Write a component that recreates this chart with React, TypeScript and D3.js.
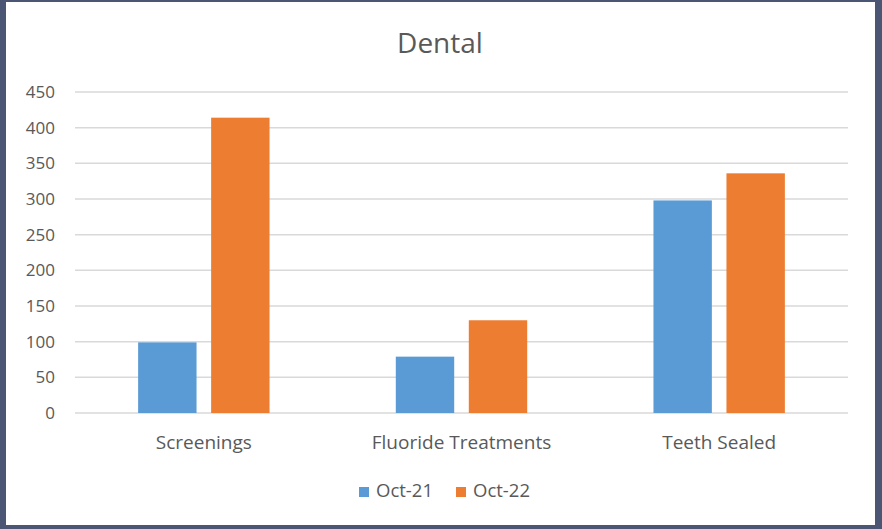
import React, { useEffect, useRef } from "react"
import * as d3 from "d3"

const categories = ["Screenings", "Fluoride Treatments", "Teeth Sealed"]
const seriesNames = ["Oct-21", "Oct-22"]
const oct21 = [99, 79, 298]
const oct22 = [414, 130, 336]
const yTicks = [0, 50, 100, 150, 200, 250, 300, 350, 400, 450]
const colors = ["#5b9bd5", "#ed7d31"]

const W = 882
const H = 529
const FONT = "'Open Sans', 'Noto Sans', sans-serif"

export default function App() {
    const ref = useRef<SVGSVGElement>(null)

    useEffect(() => {
        const svg = d3.select(ref.current)
        svg.selectAll("*").remove()

        // frame
        svg.append("rect").attr("width", W).attr("height", H).attr("fill", "#4b5675")
        svg.append("rect")
            .attr("x", 6).attr("y", 2).attr("width", 869).attr("height", 523)
            .attr("fill", "#ffffff")

        const left = 75
        const right = 848
        const top = 92
        const bottom = 413

        const y = d3.scaleLinear().domain([0, 450]).range([bottom, top])
        const x0 = d3.scaleBand().domain(categories).range([left, right])
            .paddingInner(0.49).paddingOuter(0.245)
        const x1 = d3.scaleBand().domain(seriesNames).range([0, x0.bandwidth()])
            .paddingInner(0.2)

        // gridlines
        svg.append("g")
            .selectAll("line")
            .data(yTicks)
            .enter()
            .append("line")
            .attr("x1", left).attr("x2", right)
            .attr("y1", d => y(d)).attr("y2", d => y(d))
            .attr("stroke", "#d9d9d9")
            .attr("stroke-width", 1.5)

        // y labels
        svg.append("g")
            .selectAll("text")
            .data(yTicks)
            .enter()
            .append("text")
            .attr("x", 55)
            .attr("y", d => y(d))
            .attr("dy", "0.36em")
            .attr("text-anchor", "end")
            .attr("font-family", FONT)
            .attr("font-size", 17)
            .attr("fill", "#595959")
            .text(d => d)

        const rows = categories.map((c, i) => ({ cat: c, vals: [oct21[i], oct22[i]] }))

        const groups = svg.append("g")
            .selectAll("g")
            .data(rows)
            .enter()
            .append("g")
            .attr("transform", d => "translate(" + x0(d.cat) + ",0)")

        groups.selectAll("rect")
            .data(d => d.vals.map((v, j) => ({ name: seriesNames[j], v, j })))
            .enter()
            .append("rect")
            .attr("x", d => x1(d.name) as number)
            .attr("y", d => y(d.v))
            .attr("width", x1.bandwidth())
            .attr("height", d => bottom - y(d.v))
            .attr("fill", d => colors[d.j])

        // category labels
        svg.append("g")
            .selectAll("text")
            .data(categories)
            .enter()
            .append("text")
            .attr("x", d => (x0(d) as number) + x0.bandwidth() / 2)
            .attr("y", 449)
            .attr("text-anchor", "middle")
            .attr("font-family", FONT)
            .attr("font-size", 19)
            .attr("fill", "#595959")
            .text(d => d)

        // title
        svg.append("text")
            .attr("x", 440).attr("y", 53)
            .attr("text-anchor", "middle")
            .attr("font-family", FONT)
            .attr("font-size", 28)
            .attr("fill", "#595959")
            .text("Dental")

        // legend
        const legendX = [359, 456]
        const legend = svg.append("g")
            .selectAll("g")
            .data(seriesNames)
            .enter()
            .append("g")
            .attr("transform", (d, i) => "translate(" + legendX[i] + ",0)")
        legend.append("rect")
            .attr("x", 0).attr("y", 487).attr("width", 10).attr("height", 10)
            .attr("fill", (d, i) => colors[i])
        legend.append("text")
            .attr("x", 17).attr("y", 497)
            .attr("font-family", FONT)
            .attr("font-size", 18.5)
            .attr("fill", "#595959")
            .text(d => d)
    }, [])

    return <svg ref={ref} width={W} height={H} style={{ position: "absolute", left: 0, top: 0 }} />
}
